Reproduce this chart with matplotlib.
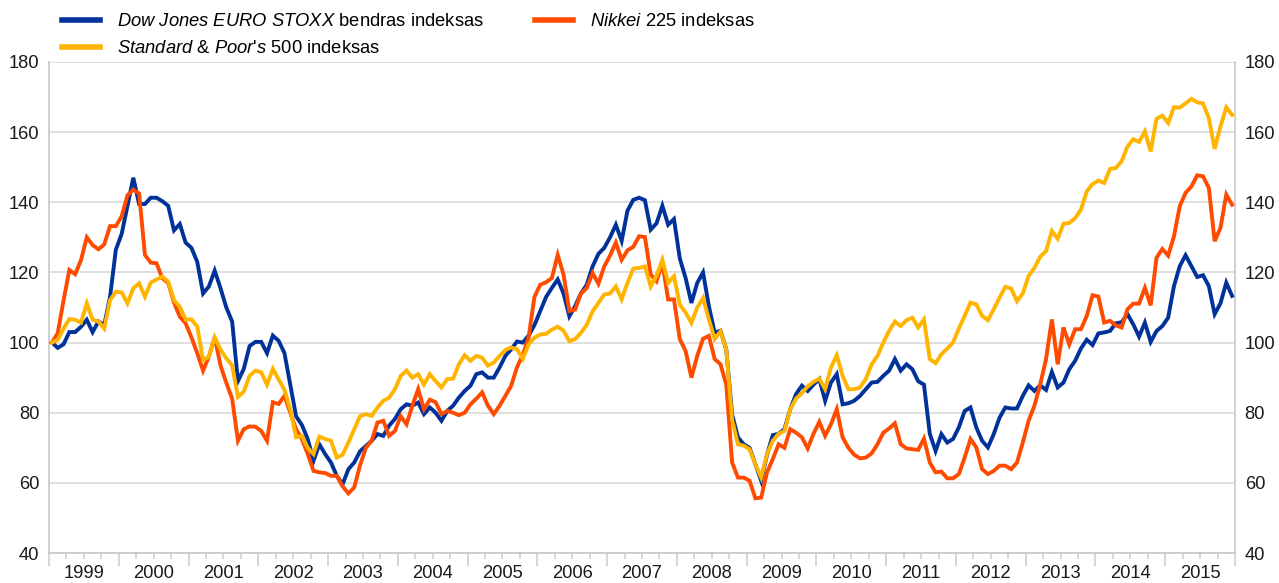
import numpy as np
import matplotlib
matplotlib.use('Agg')
import matplotlib.pyplot as plt
from matplotlib.lines import Line2D

# Monthly index values, January 1999 = 100 (Jan 1999 - Dec 2015)
euro_stoxx = [
    100, 98.5, 99.5, 103, 103, 104.5, 106.5, 103, 106, 105, 113, 126.5,
    131, 139, 147, 139.5, 139.5, 141.3, 141.3, 140.3, 139, 132, 133.8, 128.5,
    127, 123, 114, 116, 120.5, 115.5, 110, 106, 89, 92.5, 99, 100.2,
    100.2, 97, 102, 100.5, 97, 88, 79, 76.5, 72.5, 66.3, 71, 68.2,
    65.8, 62, 59.6, 63.9, 65.8, 69, 70.5, 72, 73.9, 73.4, 76.3, 78.2,
    81, 82.4, 82, 82.9, 79.6, 81.5, 80, 77.7, 80.5, 82, 84.3, 86.2,
    87.7, 91, 91.5, 90, 90, 92.9, 96.2, 98.1, 100.3, 100, 102, 105,
    109, 113, 115.6, 118, 114, 107.5, 110.4, 114, 116.5, 121.7, 125.3, 127,
    130, 133.6, 129, 137.6, 140.7, 141.3, 140.6, 132.2, 134, 139, 133.6, 135.2,
    124, 118.4, 111.3, 117, 120, 110.4, 102.8, 103.4, 98, 79.5, 73, 71,
    70, 65.3, 60.6, 68, 73.6, 74, 75.3, 81, 85.3, 87.7, 86.2, 88,
    89.6, 83.4, 88.6, 91, 82.4, 82.7, 83.4, 84.8, 86.7, 88.6, 88.8, 90.5,
    92, 95.3, 92, 93.8, 92.4, 89, 88, 74, 69.1, 73.9, 71.5, 72.5,
    75.8, 80.5, 81.5, 75.8, 72, 70.1, 73.9, 78.6, 81.5, 81.2, 81.2, 84.8,
    87.8, 86.2, 87.8, 86.5, 91.6, 87.2, 88.6, 92.4, 94.8, 98.3, 100.8, 99.3,
    102.6, 102.9, 103.3, 105.5, 105.8, 108.1, 105.2, 101.7, 105.7, 100.2, 103.3, 104.7,
    107.1, 116.1, 121.8, 124.9, 121.8, 118.7, 119.2, 116.1, 108.1, 111.2, 117.1, 113.3,
]

nikkei = [
    100, 102.7, 112, 120.7, 119.5, 123.5, 130, 127.8, 126.6, 128, 133.2, 133.2,
    136, 142, 143.6, 142.5, 125, 122.8, 122.6, 118.3, 117, 111.4, 107.4, 105.5,
    101.5, 97, 92, 96, 101.5, 93.5, 88.5, 84, 72, 75.3, 76.1, 76,
    74.8, 72, 83, 82.5, 84.8, 80, 75.3, 72.5, 68.2, 63.4, 63, 62.8,
    62, 62, 59, 57, 58.7, 65, 70, 72, 77.2, 77.7, 73.4, 74.8,
    79, 76.7, 82, 86.7, 81, 83.7, 83, 79.6, 80.5, 80, 79.3, 80,
    82.4, 84, 85.8, 82, 79.6, 82, 84.8, 87.7, 93, 96.5, 101.5, 113,
    116.5, 117.2, 118.4, 125, 119.4, 109, 109.4, 114, 115.6, 119.8, 116.8, 121.7,
    124.8, 128.5, 123.6, 126.3, 127.3, 130.3, 130.1, 119.4, 117.5, 122.7, 112.3, 112.3,
    101, 97.6, 90, 96.2, 101.1, 101.9, 95.3, 93.8, 88, 65.8, 61.5, 61.5,
    60.6, 55.6, 55.8, 63, 66.8, 71, 70, 75.3, 74.3, 73, 69.8, 74,
    77.4, 73.4, 76.7, 81, 73, 70, 68, 67, 67.2, 68.4, 71, 74.3,
    75.5, 77, 71, 69.8, 69.6, 69.4, 72.6, 65.8, 63, 63.2, 61.3, 61.3,
    62.5, 67.2, 72.5, 70.1, 63.9, 62.5, 63.4, 64.9, 64.9, 63.9, 65.8, 71.5,
    77.7, 82, 88.1, 95.3, 106.6, 93.8, 104.3, 99.5, 103.8, 103.8, 107.6, 113.5,
    113.1, 105.7, 106.2, 104.9, 104.3, 109.5, 111.1, 111.1, 115.6, 110.6, 124.2, 126.7,
    124.8, 130.3, 138.9, 142.7, 144.5, 147.7, 147.4, 144.1, 128.9, 132.7, 142.2, 139.3,
]

sp500 = [
    100, 100.8, 104, 106.7, 106.5, 105.7, 111.2, 106.5, 106, 104, 112.1, 114.5,
    114.3, 111.2, 115.5, 116.9, 113.1, 117.1, 118, 118.8, 117.4, 112.1, 110.2, 106.6,
    106.6, 104.6, 95, 96, 101.5, 98, 95.5, 93.5, 84.5, 86, 90.5, 92,
    91.5, 88, 92.5, 89.5, 86.5, 81, 73, 73.4, 70, 68.2, 73.2, 72.5,
    72, 67.2, 68, 71.5, 75.3, 79, 79.6, 79.1, 81.5, 83.4, 84.3, 86.7,
    90.5, 92, 90, 91, 88, 91, 89, 87.2, 89.6, 89.7, 93.8, 96.4,
    94.8, 96.2, 95.7, 93.4, 94.3, 96.2, 97.9, 98.6, 98.1, 95.3, 99.5, 101.4,
    102.3, 102.5, 103.7, 104.5, 103.4, 100.4, 101, 102.8, 105.1, 108.9, 111.3, 113.7,
    114, 116, 112.3, 117, 121.1, 121.3, 121.7, 116, 119.1, 123.6, 117, 118.9,
    110.8, 108.6, 105.6, 110, 112.7, 106.6, 101, 103.2, 98, 78, 71, 70.6,
    69.6, 65.3, 61.5, 68.2, 72, 74, 74.8, 81, 84, 85.6, 87.5, 88.8,
    89.7, 86.7, 92.9, 96.4, 90.5, 86.7, 86.7, 87.2, 89.6, 93.8, 96.2, 100,
    103.3, 106, 104.7, 106.4, 107.1, 104.3, 106.6, 95.3, 94.1, 96.7, 98.3, 100,
    104, 107.6, 111.4, 110.9, 107.6, 106.4, 109.5, 112.8, 115.9, 115.4, 111.8, 114,
    119, 121.3, 124.5, 126.1, 131.8, 129.6, 133.9, 134.1, 135.5, 137.9, 143.1, 145.2,
    146.2, 145.5, 149.5, 149.8, 151.7, 155.9, 158, 157.2, 160.2, 154.5, 163.8, 164.7,
    162.6, 167.1, 167, 168.2, 169.5, 168.5, 168.2, 164, 155.2, 161.6, 167.1, 164.9,
]

years = list(range(1999, 2016))
year_labels = [str(y) for y in years]
y_ticks = [40, 60, 80, 100, 120, 140, 160, 180]

label_es = r'$\mathit{Dow\ Jones\ EURO\ STOXX}$ bendras indeksas'
label_sp = r"$\mathit{Standard}$ & $\mathit{Poor}$'$\mathit{s\ 500}$ indeksas"
label_nk = r'$\mathit{Nikkei\ 225}$ indeksas'

c_blue = '#003299'
c_yellow = '#FFB400'
c_orange = '#FF4B00'

plt.rcParams['font.family'] = ['Liberation Sans', 'DejaVu Sans']
plt.rcParams['mathtext.fontset'] = 'custom'
plt.rcParams['mathtext.it'] = 'Liberation Sans:italic'
plt.rcParams['mathtext.rm'] = 'Liberation Sans'
plt.rcParams['mathtext.bf'] = 'Liberation Sans:bold'

FS = 13.2
n = len(euro_stoxx)
x = years[0] + (np.arange(n) + 0.5) / 12.0

W, H = 1279, 583
fig = plt.figure(figsize=(W / 100, H / 100), dpi=100)
ax = fig.add_axes([49 / W, 1 - 553 / H, (1235 - 49) / W, (553 - 62) / H])

lw = 2.8
ax.plot(x, euro_stoxx, color=c_blue, lw=lw, solid_joinstyle='miter', zorder=3)
ax.plot(x, nikkei, color=c_orange, lw=lw, solid_joinstyle='miter', zorder=4)
ax.plot(x, sp500, color=c_yellow, lw=lw, solid_joinstyle='miter', zorder=5)

ax.set_xlim(years[0], years[-1] + 1)
ax.set_ylim(40, 180)

grid_c = '#d9d9d9'
ax.set_yticks(y_ticks)
ax.yaxis.grid(True, color=grid_c, lw=1.2, zorder=0)
ax.set_axisbelow(True)
ax.tick_params(axis='y', length=0, labelsize=FS, labelcolor='#1a1a1a',
               left=True, right=True, labelleft=True, labelright=True, pad=7)

# major ticks at year boundaries (long), minor ticks at quarters (short, with year labels at mid-year)
ax.set_xticks(years + [years[-1] + 1])
ax.set_xticklabels([''] * (len(years) + 1))
minor_pos = []
minor_lab = []
for y, lab in zip(years, year_labels):
    for q, l in ((0.25, ''), (0.5, lab), (0.75, '')):
        minor_pos.append(y + q)
        minor_lab.append(l)
ax.set_xticks(minor_pos, minor=True)
ax.set_xticklabels(minor_lab, minor=True)
ax.tick_params(axis='x', which='major', length=9, width=1.2, color='#d0d0d0', direction='out')
ax.tick_params(axis='x', which='minor', length=4, width=1.2, color='#d0d0d0', direction='out',
               labelsize=FS, labelcolor='#1a1a1a', pad=5)

for s in ['left', 'right', 'bottom']:
    ax.spines[s].set_color('#c8c8c8')
    ax.spines[s].set_linewidth(1.2)
ax.spines['top'].set_visible(False)

handles = [Line2D([], [], color=c_blue, lw=4),
           Line2D([], [], color=c_yellow, lw=4),
           Line2D([], [], color=c_orange, lw=4)]
fig.legend(handles, [label_es, label_sp, label_nk], ncol=2, frameon=False,
           loc='upper left', bbox_to_anchor=(62 / W, 1 - 13 / H),
           borderaxespad=0, borderpad=0, fontsize=FS,
           handlelength=2.05, handletextpad=0.95, columnspacing=2.8,
           labelspacing=0.55)

fig.savefig('out.png', dpi=100)
